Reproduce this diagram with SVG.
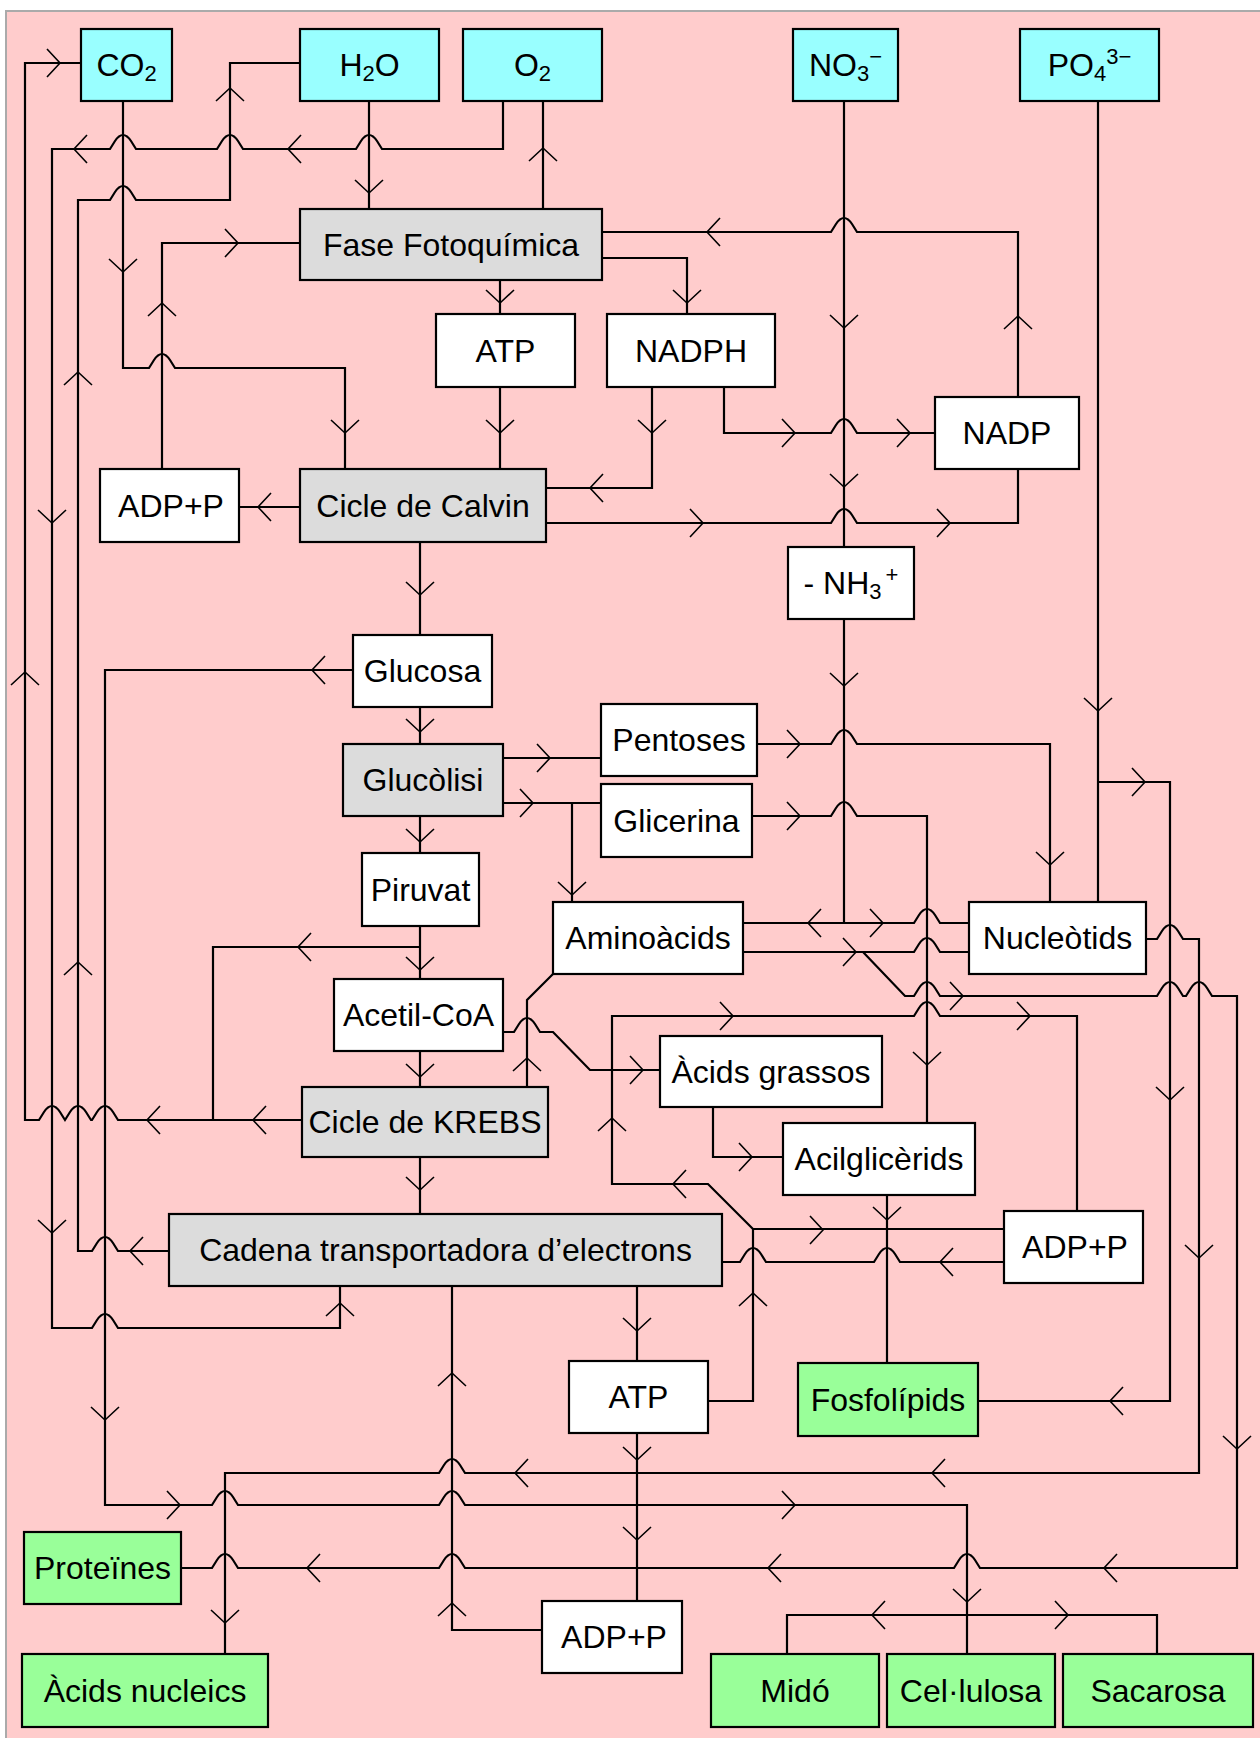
<svg xmlns="http://www.w3.org/2000/svg" width="1260" height="1738" viewBox="0 0 1260 1738">
<style>
.bx{stroke:#000;stroke-width:2.2}
.cy{fill:#99FFFF}.gy{fill:#DCDCDC}.wh{fill:#FFFFFF}.gn{fill:#99FF99}
text{font-family:"Liberation Sans",Arial,sans-serif;font-size:32px;fill:#000;text-anchor:middle}
.sb{font-size:22px}
.ln{fill:none;stroke:#000;stroke-width:2.2;stroke-linejoin:miter}
.ar{fill:none;stroke:#000;stroke-width:1.6}
</style>
<defs>
<path id="aR" class="ar" d="M-13,-14 L0,0 L-13,14"/>
<path id="aL" class="ar" d="M13,-14 L0,0 L13,14"/>
<path id="aU" class="ar" d="M-14,13 L0,0 L14,13"/>
<path id="aD" class="ar" d="M-14,-13 L0,0 L14,-13"/>
</defs>
<rect x="0" y="0" width="1260" height="1738" fill="#FFFFFF"/>
<rect x="6" y="11" width="1254" height="1727" fill="#FFCCCC"/>
<path d="M6,1738 V11 H1260" fill="none" stroke="#AAAAAA" stroke-width="2"/>

<g id="connectors">
<path class="ln" d="M81,63 H25 V1120 H39 l5,-8 q8,-12 16,0 l5,8 H65 l5,-8 q8,-12 16,0 l5,8 H92 l5,-8 q8,-12 16,0 l5,8 H302"/>
<path class="ln" d="M420,947 H213 V1120"/>
<path class="ln" d="M123,101 V368 H149 l5,-8 q8,-12 16,0 l5,8 H345 V469"/>
<path class="ln" d="M503,101 V149 H382 l-5,-8 q-8,-12 -16,0 l-5,8 H243 l-5,-8 q-8,-12 -16,0 l-5,8 H136 l-5,-8 q-8,-12 -16,0 l-5,8 H52 V1328 H92 l5,-8 q8,-12 16,0 l5,8 H340 V1286"/>
<path class="ln" d="M169,1251 H118 l-5,-8 q-8,-12 -16,0 l-5,8 H78 V200 H110 l5,-8 q8,-12 16,0 l5,8 H230 V63 H300"/>
<path class="ln" d="M369,101 V209 M543,209 V101 M162,469 V243 H300 M300,507 H239 M500,280 V314 M602,258 H687 V314 M500,387 V469 M652,387 V488 H546"/>
<path class="ln" d="M602,232 H831 l5,-8 q8,-12 16,0 l5,8 H1018 V397"/>
<path class="ln" d="M724,387 V433 H831 l5,-8 q8,-12 16,0 l5,8 H935"/>
<path class="ln" d="M546,523 H831 l5,-8 q8,-12 16,0 l5,8 H1018 V469"/>
<path class="ln" d="M844,101 V547 M844,619 V923"/>
<path class="ln" d="M743,923 H914 l5,-8 q8,-12 16,0 l5,8 H969"/>
<path class="ln" d="M420,542 V635 M420,707 V744 M420,816 V853 M420,926 V979 M420,1051 V1087 M420,1157 V1214"/>
<path class="ln" d="M353,670 H105 V1505 H212 l5,-8 q8,-12 16,0 l5,8 H439 l5,-8 q8,-12 16,0 l5,8 H967 V1654 M787,1654 V1615 H1157 V1654"/>
<path class="ln" d="M503,758 H601 M503,803 H601 M572,803 V902"/>
<path class="ln" d="M757,744 H831 l5,-8 q8,-12 16,0 l5,8 H1050 V902"/>
<path class="ln" d="M752,816 H831 l5,-8 q8,-12 16,0 l5,8 H927 V1123"/>
<path class="ln" d="M1098,101 V902 M1098,782 H1170 V1401 H978"/>
<path class="ln" d="M1146,939 H1157 l5,-8 q8,-12 16,0 l5,8 H1199 V1473 H465 l-5,-8 q-8,-12 -16,0 l-5,8 H225 V1654"/>
<path class="ln" d="M743,952 H914 l5,-8 q8,-12 16,0 l5,8 H969"/>
<path class="ln" d="M863,952 L905,996 H914 l5,-8 q8,-12 16,0 l5,8 H1157 l5,-8 q8,-12 16,0 l5,8 H1186 l5,-8 q8,-12 16,0 l5,8 H1237 V1568 H980 l-5,-8 q-8,-12 -16,0 l-5,8 H465 l-5,-8 q-8,-12 -16,0 l-5,8 H238 l-5,-8 q-8,-12 -16,0 l-5,8 H181"/>
<path class="ln" d="M527,1087 V1000 L553,974"/>
<path class="ln" d="M503,1032 H514 l5,-8 q8,-12 16,0 l5,8 H553 L590,1070 H660"/>
<path class="ln" d="M713,1107 V1157 H783 M887,1195 V1363 M637,1286 V1361 M637,1433 V1601 M542,1630 H452 V1286"/>
<path class="ln" d="M708,1401 H753 V1229 H1004 M753,1229 L708,1184 H612 V1016 H914 l5,-8 q8,-12 16,0 l5,8 H1077 V1211"/>
<path class="ln" d="M722,1262 H740 l5,-8 q8,-12 16,0 l5,8 H874 l5,-8 q8,-12 16,0 l5,8 H1004"/>

<use href="#aR" x="60" y="63"/>
<use href="#aU" x="25" y="672"/>
<use href="#aL" x="253" y="1120"/>
<use href="#aL" x="147" y="1120"/>
<use href="#aL" x="298" y="947"/>
<use href="#aD" x="123" y="272"/>
<use href="#aD" x="345" y="433"/>
<use href="#aL" x="288" y="149"/>
<use href="#aL" x="74" y="149"/>
<use href="#aD" x="52" y="523"/>
<use href="#aD" x="52" y="1233"/>
<use href="#aU" x="340" y="1303"/>
<use href="#aL" x="130" y="1251"/>
<use href="#aU" x="78" y="962"/>
<use href="#aU" x="78" y="372"/>
<use href="#aU" x="230" y="88"/>
<use href="#aD" x="369" y="193"/>
<use href="#aU" x="543" y="148"/>
<use href="#aU" x="162" y="303"/>
<use href="#aR" x="238" y="243"/>
<use href="#aL" x="258" y="507"/>
<use href="#aD" x="500" y="303"/>
<use href="#aD" x="687" y="303"/>
<use href="#aL" x="707" y="232"/>
<use href="#aU" x="1018" y="316"/>
<use href="#aD" x="500" y="433"/>
<use href="#aD" x="652" y="433"/>
<use href="#aL" x="590" y="488"/>
<use href="#aR" x="795" y="433"/>
<use href="#aR" x="910" y="433"/>
<use href="#aR" x="703" y="523"/>
<use href="#aR" x="950" y="523"/>
<use href="#aD" x="844" y="328"/>
<use href="#aD" x="844" y="487"/>
<use href="#aD" x="844" y="686"/>
<use href="#aL" x="808" y="923"/>
<use href="#aR" x="883" y="923"/>
<use href="#aD" x="420" y="595"/>
<use href="#aD" x="420" y="732"/>
<use href="#aD" x="420" y="842"/>
<use href="#aD" x="420" y="970"/>
<use href="#aD" x="420" y="1077"/>
<use href="#aD" x="420" y="1190"/>
<use href="#aL" x="312" y="670"/>
<use href="#aD" x="105" y="1420"/>
<use href="#aR" x="180" y="1505"/>
<use href="#aR" x="795" y="1505"/>
<use href="#aD" x="967" y="1602"/>
<use href="#aL" x="872" y="1615"/>
<use href="#aR" x="1068" y="1615"/>
<use href="#aR" x="550" y="758"/>
<use href="#aR" x="533" y="803"/>
<use href="#aD" x="572" y="895"/>
<use href="#aR" x="800" y="744"/>
<use href="#aD" x="1050" y="865"/>
<use href="#aR" x="800" y="816"/>
<use href="#aD" x="927" y="1065"/>
<use href="#aD" x="1098" y="711"/>
<use href="#aR" x="1145" y="782"/>
<use href="#aD" x="1170" y="1100"/>
<use href="#aL" x="1110" y="1401"/>
<use href="#aD" x="1199" y="1258"/>
<use href="#aL" x="932" y="1473"/>
<use href="#aL" x="515" y="1473"/>
<use href="#aD" x="225" y="1623"/>
<use href="#aR" x="856" y="952"/>
<use href="#aR" x="963" y="996"/>
<use href="#aD" x="1237" y="1449"/>
<use href="#aL" x="1104" y="1568"/>
<use href="#aL" x="768" y="1568"/>
<use href="#aL" x="307" y="1568"/>
<use href="#aU" x="527" y="1058"/>
<use href="#aR" x="643" y="1070"/>
<use href="#aR" x="752" y="1157"/>
<use href="#aD" x="887" y="1220"/>
<use href="#aD" x="637" y="1331"/>
<use href="#aD" x="637" y="1460"/>
<use href="#aD" x="637" y="1540"/>
<use href="#aU" x="452" y="1603"/>
<use href="#aU" x="452" y="1373"/>
<use href="#aU" x="753" y="1293"/>
<use href="#aR" x="823" y="1230"/>
<use href="#aL" x="673" y="1184"/>
<use href="#aU" x="612" y="1118"/>
<use href="#aR" x="733" y="1016"/>
<use href="#aR" x="1030" y="1016"/>
<use href="#aL" x="940" y="1262"/>
</g>

<g id="n-co2"><rect class="bx cy" x="81" y="29" width="91" height="72"/><text x="126.5" y="76">CO<tspan class="sb" dy="5">2</tspan></text></g>
<g id="n-h2o"><rect class="bx cy" x="300" y="29" width="139" height="72"/><text x="369.5" y="76">H<tspan class="sb" dy="5">2</tspan><tspan dy="-5">O</tspan></text></g>
<g id="n-o2"><rect class="bx cy" x="463" y="29" width="139" height="72"/><text x="532.5" y="76">O<tspan class="sb" dy="5">2</tspan></text></g>
<g id="n-no3"><rect class="bx cy" x="793" y="29" width="105" height="72"/><text x="845.5" y="76">NO<tspan class="sb" dy="5">3</tspan><tspan class="sb" dy="-17">−</tspan></text></g>
<g id="n-po4"><rect class="bx cy" x="1020" y="29" width="139" height="72"/><text x="1089.5" y="76">PO<tspan class="sb" dy="5">4</tspan><tspan class="sb" dy="-17">3−</tspan></text></g>
<g id="n-fase"><rect class="bx gy" x="300" y="209" width="302" height="71"/><text x="451" y="256">Fase Fotoquímica</text></g>
<g id="n-atp1"><rect class="bx wh" x="436" y="314" width="139" height="73"/><text x="505.5" y="362">ATP</text></g>
<g id="n-nadph"><rect class="bx wh" x="607" y="314" width="168" height="73"/><text x="691" y="362">NADPH</text></g>
<g id="n-nadp"><rect class="bx wh" x="935" y="397" width="144" height="72"/><text x="1007" y="444">NADP</text></g>
<g id="n-adp1"><rect class="bx wh" x="100" y="469" width="139" height="73"/><text x="171" y="517">ADP+P</text></g>
<g id="n-calvin"><rect class="bx gy" x="300" y="469" width="246" height="73"/><text x="423" y="517">Cicle de Calvin</text></g>
<g id="n-nh3"><rect class="bx wh" x="788" y="547" width="126" height="72"/><text x="851" y="594">- NH<tspan class="sb" dy="5">3</tspan><tspan class="sb" dx="4" dy="-17">+</tspan></text></g>
<g id="n-glucosa"><rect class="bx wh" x="353" y="635" width="139" height="72"/><text x="422.5" y="682">Glucosa</text></g>
<g id="n-glucolisi"><rect class="bx gy" x="343" y="744" width="160" height="72"/><text x="423" y="791">Glucòlisi</text></g>
<g id="n-pentoses"><rect class="bx wh" x="601" y="704" width="156" height="72"/><text x="679" y="751">Pentoses</text></g>
<g id="n-glicerina"><rect class="bx wh" x="601" y="784" width="151" height="73"/><text x="676.5" y="832">Glicerina</text></g>
<g id="n-piruvat"><rect class="bx wh" x="362" y="853" width="117" height="73"/><text x="420.5" y="901">Piruvat</text></g>
<g id="n-aminoacids"><rect class="bx wh" x="553" y="902" width="190" height="72"/><text x="648" y="949">Aminoàcids</text></g>
<g id="n-nucleotids"><rect class="bx wh" x="969" y="902" width="177" height="72"/><text x="1057.5" y="949">Nucleòtids</text></g>
<g id="n-acetil"><rect class="bx wh" x="334" y="979" width="169" height="72"/><text x="418.5" y="1026">Acetil-CoA</text></g>
<g id="n-grassos"><rect class="bx wh" x="660" y="1036" width="222" height="71"/><text x="771" y="1083">Àcids grassos</text></g>
<g id="n-krebs"><rect class="bx gy" x="302" y="1087" width="246" height="70"/><text x="425" y="1133">Cicle de KREBS</text></g>
<g id="n-acilgl"><rect class="bx wh" x="783" y="1123" width="192" height="72"/><text x="879" y="1170">Acilglicèrids</text></g>
<g id="n-adp2"><rect class="bx wh" x="1004" y="1211" width="139" height="72"/><text x="1075" y="1258">ADP+P</text></g>
<g id="n-cadena"><rect class="bx gy" x="169" y="1214" width="553" height="72"/><text x="445.5" y="1261">Cadena transportadora d’electrons</text></g>
<g id="n-atp2"><rect class="bx wh" x="569" y="1361" width="139" height="72"/><text x="638.5" y="1408">ATP</text></g>
<g id="n-fosfo"><rect class="bx gn" x="798" y="1363" width="180" height="73"/><text x="888" y="1411">Fosfolípids</text></g>
<g id="n-proteines"><rect class="bx gn" x="24" y="1532" width="157" height="72"/><text x="102.5" y="1579">Proteïnes</text></g>
<g id="n-adp3"><rect class="bx wh" x="542" y="1601" width="140" height="72"/><text x="614" y="1648">ADP+P</text></g>
<g id="n-nucleics"><rect class="bx gn" x="22" y="1654" width="246" height="73"/><text x="145" y="1702">Àcids nucleics</text></g>
<g id="n-mido"><rect class="bx gn" x="711" y="1654" width="168" height="73"/><text x="795" y="1702">Midó</text></g>
<g id="n-cellulosa"><rect class="bx gn" x="887" y="1654" width="168" height="73"/><text x="971" y="1702">Cel·lulosa</text></g>
<g id="n-sacarosa"><rect class="bx gn" x="1063" y="1654" width="190" height="73"/><text x="1158" y="1702">Sacarosa</text></g>
</svg>
